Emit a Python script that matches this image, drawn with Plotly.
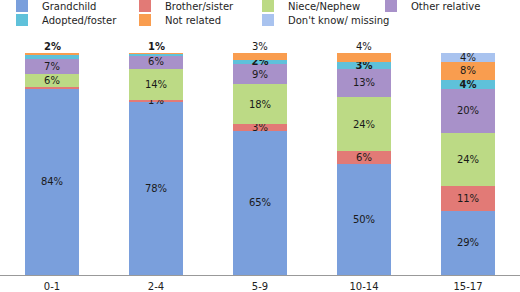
import plotly.graph_objects as go

categories = ["0-1", "2-4", "5-9", "10-14", "15-17"]

grandchild = [84, 78, 65, 50, 29]
brother_sister = [0.5, 1, 3, 6, 11]
niece_nephew = [6, 14, 18, 24, 24]
other_relative = [7, 6, 9, 13, 20]
adopted_foster = [2, 0.8, 2, 3, 4]
not_related = [0.5, 0.2, 3, 4, 8]
dont_know = [0, 0, 0, 0, 4]

grandchild_lbl = ["84%", "78%", "65%", "50%", "29%"]
brother_lbl = ["", "1%", "3%", "6%", "11%"]
niece_lbl = ["6%", "14%", "18%", "24%", "24%"]
other_lbl = ["7%", "6%", "9%", "13%", "20%"]
adopted_lbl = ["", "", "2%", "3%", "4%"]
not_related_lbl = ["", "", "", "", "8%"]
dont_know_lbl = ["", "", "", "", "4%"]
top_lbl = ["2%", "1%", "3%", "4%", ""]
top_lbl_bold = [True, True, False, False, False]

series = [
    ("Grandchild", grandchild, grandchild_lbl, "#7a9fdc", False),
    ("Brother/sister", brother_sister, brother_lbl, "#e27a76", False),
    ("Niece/Nephew", niece_nephew, niece_lbl, "#bcda85", False),
    ("Other relative", other_relative, other_lbl, "#a891c9", False),
    ("Adopted/foster", adopted_foster, adopted_lbl, "#5fc1da", True),
    ("Not related", not_related, not_related_lbl, "#f99d4f", False),
    ("Don't know/ missing", dont_know, dont_know_lbl, "#a9c3ef", False),
]

FONT = "DejaVu Sans"
fig = go.Figure()
legend_layout = {}
col_x = [2, 125, 248, 371]
row_y = [1.2117, 1.1486]
for k, (name, vals, lbls, col, bold) in enumerate(series):
    leg = "legend" if k == 0 else "legend%d" % (k + 1)
    fig.add_trace(go.Bar(
        name=name, x=categories, y=vals,
        text=[("<b>%s</b>" % t if (bold and t) else t) for t in lbls],
        textposition="inside", insidetextanchor="middle",
        constraintext="none", textangle=0,
        insidetextfont=dict(family=FONT, size=10, color="#1a1a1a"),
        marker=dict(color=col, line=dict(width=0)),
        hoverinfo="skip", legend=leg,
    ))
    legend_layout[leg] = dict(
        orientation="h", x=col_x[k % 4] / 520, xanchor="left",
        y=row_y[k // 4], yref="paper", yanchor="middle",
        font=dict(family=FONT, size=10, color="#1e1e1e"),
        bgcolor="rgba(0,0,0,0)", itemwidth=30)

totals = [sum(s[1][i] for s in series) for i in range(len(categories))]
for i, c in enumerate(categories):
    if top_lbl[i]:
        t = "<b>%s</b>" % top_lbl[i] if top_lbl_bold[i] else top_lbl[i]
        fig.add_annotation(x=c, y=min(totals[i], 100), text=t, showarrow=False,
                           yanchor="bottom", yshift=-1,
                           font=dict(family=FONT, size=10, color="#1a1a1a"))

fig.update_layout(
    barmode="stack", bargap=0.49,
    width=520, height=292,
    margin=dict(l=0, r=0, t=53, b=17, autoexpand=False),
    plot_bgcolor="white", paper_bgcolor="white",
    showlegend=True,
    font=dict(family=FONT, size=10, color="#222222"),
    **legend_layout,
)
fig.update_xaxes(showline=True, linecolor="#999999", linewidth=1, showgrid=False,
                 tickfont=dict(family=FONT, size=10, color="#222222"),
                 ticks="", automargin=False, ticklabelstandoff=2)
fig.update_yaxes(range=[0, 100], visible=False, showgrid=False, automargin=False)

fig.write_html("out.html", config={"displayModeBar": False},
               post_script="document.body.style.margin='0';")
